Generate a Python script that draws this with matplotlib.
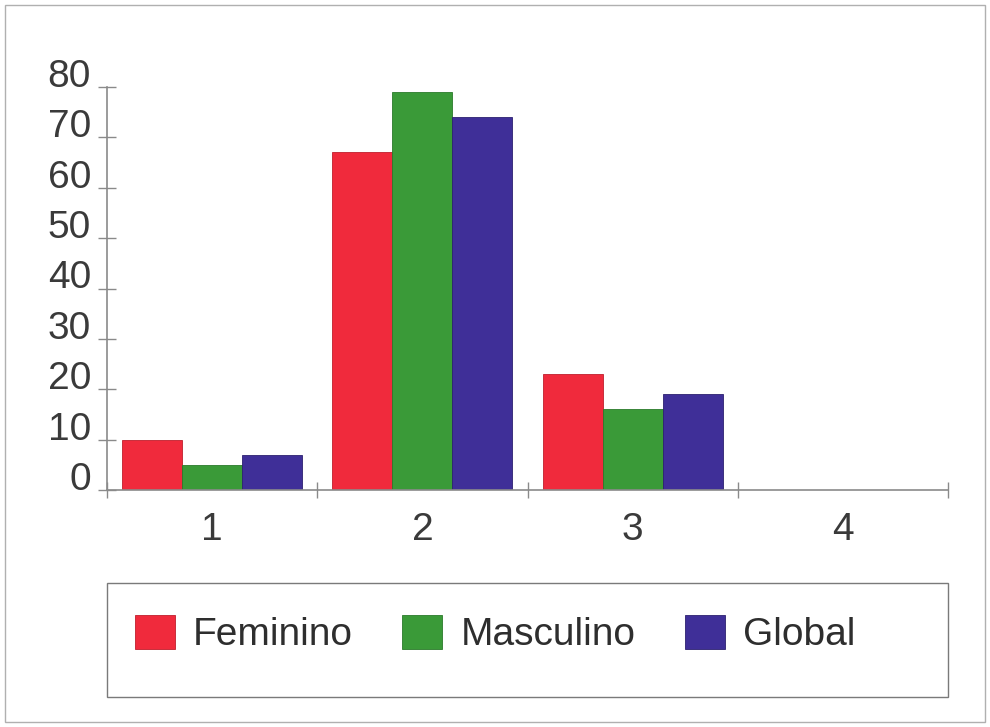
import matplotlib
matplotlib.use("Agg")
import matplotlib.pyplot as plt
from matplotlib.patches import Rectangle
import numpy as np

# Percentages per group and category
categories = ["1", "2", "3", "4"]
feminino = [10, 67, 23, 0]
masculino = [5, 79, 16, 0]
global_ = [7, 74, 19, 0]
series_names = ["Feminino", "Masculino", "Global"]
y_ticks = [0, 10, 20, 30, 40, 50, 60, 70, 80]

colors = ["#f02a3c", "#3a9a38", "#3f2f98"]
edges = ["#c01e2c", "#2a7a2a", "#2c2070"]
text_col = "#3a3a3a"
axis_col = "#8a8a8a"

plt.rcParams["font.family"] = ["Liberation Sans", "DejaVu Sans"]

fig = plt.figure(figsize=(9.9, 7.27), dpi=100)
W, H = 990, 727

def fx(px):
    return px / W

def fy(py):
    return 1 - py / H

ax = fig.add_axes([fx(107), fy(490), fx(948) - fx(107), fy(87) - fy(490)])

x = np.arange(1, len(categories) + 1)
w = 0.2857
handles = []
for k, (vals, name) in enumerate(zip([feminino, masculino, global_], series_names)):
    b = ax.bar(x + (k - 1) * w, vals, width=w, color=colors[k],
               edgecolor=edges[k], linewidth=0.6, label=name, zorder=2)
    handles.append(b)

ax.set_xlim(0.5, len(categories) + 0.5)
ax.set_ylim(0, 80)

for s in ["top", "right"]:
    ax.spines[s].set_visible(False)
for s in ["left", "bottom"]:
    ax.spines[s].set_color(axis_col)
    ax.spines[s].set_linewidth(1.2)

ax.set_yticks(y_ticks)
ax.set_yticklabels([str(t) for t in y_ticks])
ax.tick_params(axis="y", direction="inout", length=13, width=1.0,
               color=axis_col, labelsize=28, labelcolor=text_col, pad=5)
for lbl in ax.get_yticklabels():
    lbl.set_verticalalignment("baseline")

ax.set_xticks(x)
ax.set_xticklabels(categories)
ax.set_xticks(np.arange(0.5, len(categories) + 1, 1.0), minor=True)
ax.tick_params(axis="x", which="major", length=0, labelsize=28,
               labelcolor=text_col, pad=16)
ax.tick_params(axis="x", which="minor", direction="inout", length=12,
               width=1.0, color=axis_col)

# Legend box
fig.patches.append(Rectangle((fx(107), fy(697)), fx(948) - fx(107), fy(583) - fy(697),
                             transform=fig.transFigure, fill=False,
                             edgecolor="#7a7a7a", linewidth=1.0))
leg = fig.legend(handles=handles, labels=series_names, ncol=3,
                 loc="center left", bbox_to_anchor=(fx(135), fy(634)),
                 frameon=False, fontsize=28, handlelength=1.03, handleheight=1.0,
                 handletextpad=0.46, columnspacing=1.27, borderpad=0, borderaxespad=0)
for t in leg.get_texts():
    t.set_color("#2e2e2e")

# Outer frame
fig.patches.append(Rectangle((fx(5), fy(722)), fx(985) - fx(5), fy(5) - fy(722),
                             transform=fig.transFigure, fill=False,
                             edgecolor="#b0b0b0", linewidth=1.0))

fig.savefig("out.png", dpi=100)
